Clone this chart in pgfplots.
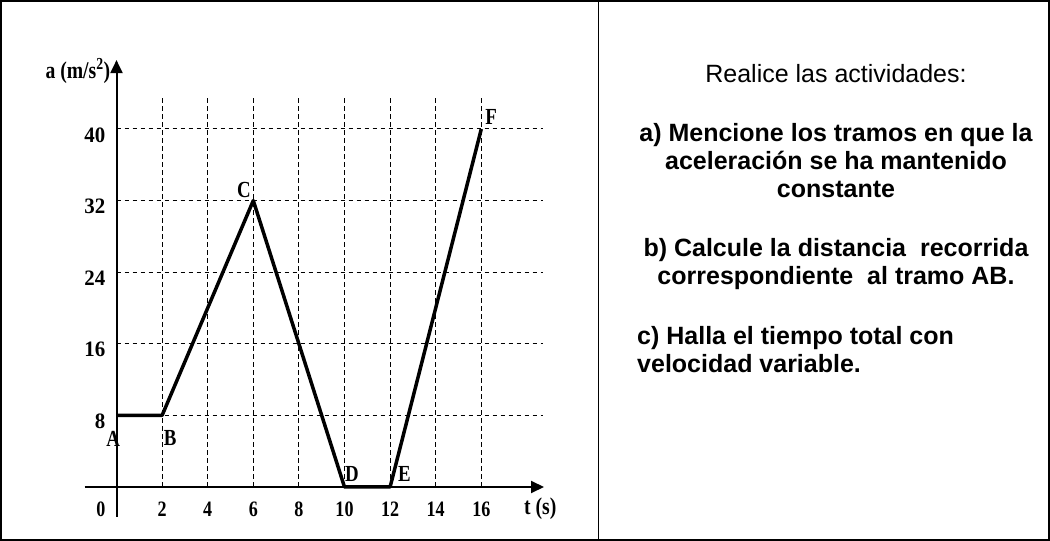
\documentclass[border=0pt]{standalone}
\usepackage{fontspec}
\usepackage{pgfplots}
\pgfplotsset{compat=1.18}
\usetikzlibrary{arrows.meta}
\setmainfont{Liberation Sans}
\newfontfamily\timesc[FakeStretch=0.82]{Liberation Serif}
\newfontfamily\timesn[FakeStretch=0.95]{Liberation Serif}
\newfontfamily\arial{Liberation Sans}
\tikzset{
  lbl/.style={font=\timesc\bfseries\fontsize{23}{23}\selectfont, inner sep=0pt, anchor=center},
  gridl/.style={line width=1pt, dash pattern=on 4.5pt off 3.5pt},
}

\pgfplotstableread{
t a
0 8
2 8
6 32
10 0
12 0
16 40
}\accel

\begin{document}
\begin{tikzpicture}
\path[use as bounding box] (0pt,0pt) rectangle (1050pt,541pt);
\draw[line width=1.5pt] (1pt,1pt) rectangle (1049pt,540pt);
\draw[line width=1.5pt] (598.5pt,1pt) -- (598.5pt,540pt);
\begin{axis}[
  at={(116.5pt,54pt)}, anchor=origin,
  x=22.8pt, y=8.95pt,
  xmin=-1.4, xmax=18.75, ymin=-3.35, ymax=47.7,
  axis lines=middle,
  axis line style={line width=2pt, -{Triangle[length=13pt,width=12pt]}},
  clip=false,
  major tick length=0pt,
  xtick={2,4,...,16}, ytick={8,16,...,40},
  xticklabel={\pgfmathprintnumber[assume math mode=true]{\tick}},
  yticklabel={\pgfmathprintnumber[assume math mode=true]{\tick}},
  xticklabel style={font=\timesc\bfseries\fontsize{22}{22}\selectfont, anchor=north, inner sep=0pt, yshift=-15pt},
  yticklabel style={font=\timesn\bfseries\fontsize{22}{22}\selectfont, anchor=east, inner sep=0pt, xshift=-11pt, yshift=-6pt},
]
\pgfplotsinvokeforeach{8,16,24,32,40}{\draw[gridl] (axis cs:0,#1) -- (axis cs:18.7,#1);}
\pgfplotsinvokeforeach{2,4,6,8,10,12,14,16}{\draw[gridl] (axis cs:#1,0) -- (axis cs:#1,43.6);}
\addplot[line width=3.5pt, line join=round, black] table[x=t,y=a] {\accel};
\node[lbl] at (axis cs:-0.15,5.42) {A};
\node[lbl] at (axis cs:2.35,5.42) {B};
\node[lbl] at (axis cs:5.59,33.2) {C};
\node[lbl] at (axis cs:10.33,1.45) {D};
\node[lbl] at (axis cs:12.63,1.45) {E};
\node[lbl] at (axis cs:16.43,41.3) {F};
\node[lbl, font=\timesc\bfseries\fontsize{22}{22}\selectfont] at (axis cs:-0.68,-2.46) {0};
\end{axis}
\node[font=\timesc\bfseries\fontsize{24}{24}\selectfont, anchor=base east, inner sep=0pt] at (110.5pt,462pt) {a (m/s\textsuperscript{2})};
\node[font=\timesc\bfseries\fontsize{24}{24}\selectfont, anchor=base west, inner sep=0pt] at (524pt,26pt) {t (s)};
\begin{scope}[every node/.style={inner sep=0pt, font=\arial\bfseries\fontsize{25}{28}\selectfont}]
\node[anchor=base, font=\arial\fontsize{25}{28}\selectfont] at (836pt,458pt) {Realice las actividades:};
\node[anchor=base] at (836pt,399pt) {a) Mencione los tramos en que la};
\node[anchor=base] at (836pt,371pt) {aceleración se ha mantenido};
\node[anchor=base] at (836pt,343pt) {constante};
\node[anchor=base] at (836pt,284pt) {b) Calcule la distancia\ \ recorrida};
\node[anchor=base] at (836pt,256pt) {correspondiente\ \ al tramo AB.};
\node[anchor=base west] at (637pt,196pt) {c) Halla el tiempo total con};
\node[anchor=base west] at (637pt,168pt) {velocidad variable.};
\end{scope}
\end{tikzpicture}
\end{document}
